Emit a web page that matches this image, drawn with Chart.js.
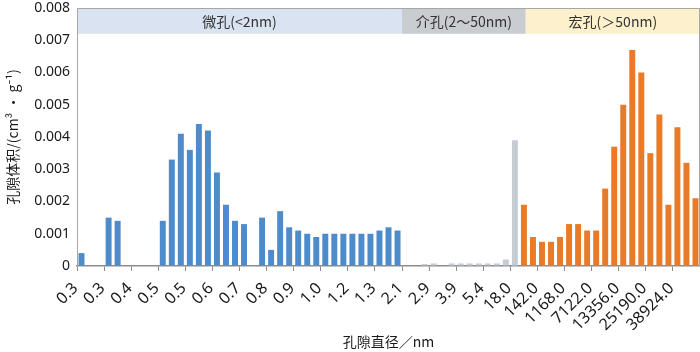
<!DOCTYPE html>
<html>
<head>
<meta charset="utf-8">
<script src="https://cdn.jsdelivr.net/npm/chart.js@4.4.1/dist/chart.umd.min.js"></script>
<style>
  html, body { margin: 0; padding: 0; background: #fff; }
</style>
</head>
<body>
<canvas id="myChart" width="700" height="352"></canvas>
<script>
// 每隔3个类别显示一个刻度标签
var tickLabels = ['0.3', '0.3', '0.4', '0.5', '0.5', '0.6', '0.7', '0.8', '0.9', '1.0', '1.2', '1.3',
    '2.1', '2.9', '3.9', '5.4', '18.0', '142.0', '1168.0', '7122.0', '13356.0', '25190.0', '38924.0'];

// 微孔 (<2nm)
var microVolume = [0.0004, 0, 0, 0.0015, 0.0014, 0, 0, 0, 0, 0.0014, 0.0033, 0.0041,
    0.0036, 0.0044, 0.0042, 0.0029, 0.0019, 0.0014, 0.0013, 0, 0.0015, 0.0005, 0.0017, 0.0012,
    0.0011, 0.001, 0.0009, 0.001, 0.001, 0.001, 0.001, 0.001, 0.001, 0.0011, 0.0012, 0.0011];
// 介孔 (2~50nm)
var mesoVolume = [0, 0, 0.00006, 0.00008, 0, 0.00008, 0.00008, 0.00008, 0.00008, 0.00008, 0.00008,
    0.0002, 0.0039];
// 宏孔 (>50nm)
var macroVolume = [0.0019, 0.0009, 0.00075, 0.00075, 0.0009, 0.0013, 0.0013, 0.0011, 0.0011, 0.0024,
    0.0037, 0.005, 0.0067, 0.006, 0.0035, 0.0047, 0.0019, 0.0043, 0.0032, 0.0021];

var bandNames = ['微孔(<2nm)', '介孔(2～50nm)', '宏孔(＞50nm)'];

document.addEventListener('DOMContentLoaded', function () {
    var total = microVolume.length + mesoVolume.length + macroVolume.length;
    var categories = [];
    for (var i = 0; i < total; i++) {
        categories.push(i % 3 === 0 ? tickLabels[i / 3] : '');
    }

    function pad(before, arr, after) {
        return new Array(before).fill(null).concat(arr, new Array(after).fill(null));
    }
    var nMi = microVolume.length, nMe = mesoVolume.length, nMa = macroVolume.length;

    var font = { family: "'Noto Sans', 'Noto Sans CJK SC', sans-serif", size: 14 };
    var xFont = { family: "'Noto Sans', sans-serif", size: 16 };
    var cjkFont = { family: "'Noto Sans CJK SC', 'Noto Sans', sans-serif", size: 14 };

    // 顶部的孔径区间色带
    var bandPlugin = {
        id: 'bands',
        beforeDatasetsDraw: function (chart) {
            var ctx = chart.ctx, a = chart.chartArea, x = chart.scales.x, y = chart.scales.y;
            var step = x.getPixelForValue(1) - x.getPixelForValue(0);
            var edge = function (i) { return x.getPixelForValue(0) - step / 2 + i * step; };
            var top = y.getPixelForValue(0.008), bot = y.getPixelForValue(0.0072);
            var bands = [
                { from: 0, to: nMi, color: '#dae3f1' },
                { from: nMi, to: nMi + nMe + 0.7, color: '#c9ccd1' },
                { from: nMi + nMe + 0.7, to: total, color: '#fdf0cc' }
            ];
            ctx.save();
            ctx.font = '14px ' + cjkFont.family;
            ctx.textAlign = 'center';
            ctx.textBaseline = 'middle';
            bands.forEach(function (b, k) {
                var l = edge(b.from), r = Math.min(edge(b.to), a.right);
                ctx.fillStyle = b.color;
                ctx.fillRect(l, top, r - l, bot - top);
                ctx.fillStyle = '#333';
                ctx.fillText(bandNames[k], (l + r) / 2, (top + bot) / 2 + 1);
            });
            ctx.strokeStyle = '#a6a6a6';
            ctx.lineWidth = 1;
            ctx.beginPath();
            ctx.moveTo(a.left + 0.5, a.bottom);
            ctx.lineTo(a.left + 0.5, a.top + 0.5);
            ctx.lineTo(a.right - 0.5, a.top + 0.5);
            ctx.lineTo(a.right - 0.5, a.bottom);
            ctx.stroke();
            ctx.restore();
        }
    };

    var common = { grouped: false, barPercentage: 0.66, categoryPercentage: 1, borderWidth: 0 };

    new Chart(document.getElementById('myChart').getContext('2d'), {
        type: 'bar',
        data: {
            labels: categories,
            datasets: [
                Object.assign({ label: '微孔', data: pad(0, microVolume, nMe + nMa), backgroundColor: '#4e8bca' }, common),
                Object.assign({ label: '介孔', data: pad(nMi, mesoVolume, nMa), backgroundColor: '#c6ccd4' }, common),
                Object.assign({ label: '宏孔', data: pad(nMi + nMe, macroVolume, 0), backgroundColor: '#e87a28' }, common)
            ]
        },
        options: {
            responsive: false,
            animation: false,
            devicePixelRatio: 1,
            layout: { padding: { top: 8, right: 0, left: 0, bottom: 0 } },
            plugins: { legend: { display: false }, tooltip: { enabled: false } },
            scales: {
                x: {
                    ticks: {
                        autoSkip: false, minRotation: 45, maxRotation: 45,
                        font: xFont, color: '#1a1a1a', padding: 8, labelOffset: -6
                    },
                    grid: {
                        offset: true, drawOnChartArea: false, tickLength: 5,
                        tickColor: function (c) { return c.index % 3 === 0 ? '#8c8c8c' : 'rgba(0,0,0,0)'; }
                    },
                    border: { color: '#8c8c8c', width: 1.5 },
                    title: { display: true, text: '孔隙直径／nm', font: cjkFont, color: '#1a1a1a', padding: { top: 0, bottom: 2 } },
                    afterFit: function (s) { s.height = 86; s.paddingLeft = 0; s.paddingRight = 0; }
                },
                y: {
                    min: 0, max: 0.008,
                    ticks: {
                        stepSize: 0.001, font: font, color: '#1a1a1a', padding: 7,
                        callback: function (v) { return v === 0 ? '0' : v.toFixed(3); }
                    },
                    grid: { drawOnChartArea: false, drawTicks: false },
                    border: { color: '#a6a6a6' },
                    title: { display: true, text: '孔隙体积/(cm³ • g⁻¹)', font: cjkFont, color: '#1a1a1a', padding: { top: 4, bottom: 0 } },
                    afterFit: function (s) { s.width = 77; s.paddingTop = 0; s.paddingBottom = 0; }
                }
            }
        },
        plugins: [bandPlugin]
    });
});
</script>
</body>
</html>
